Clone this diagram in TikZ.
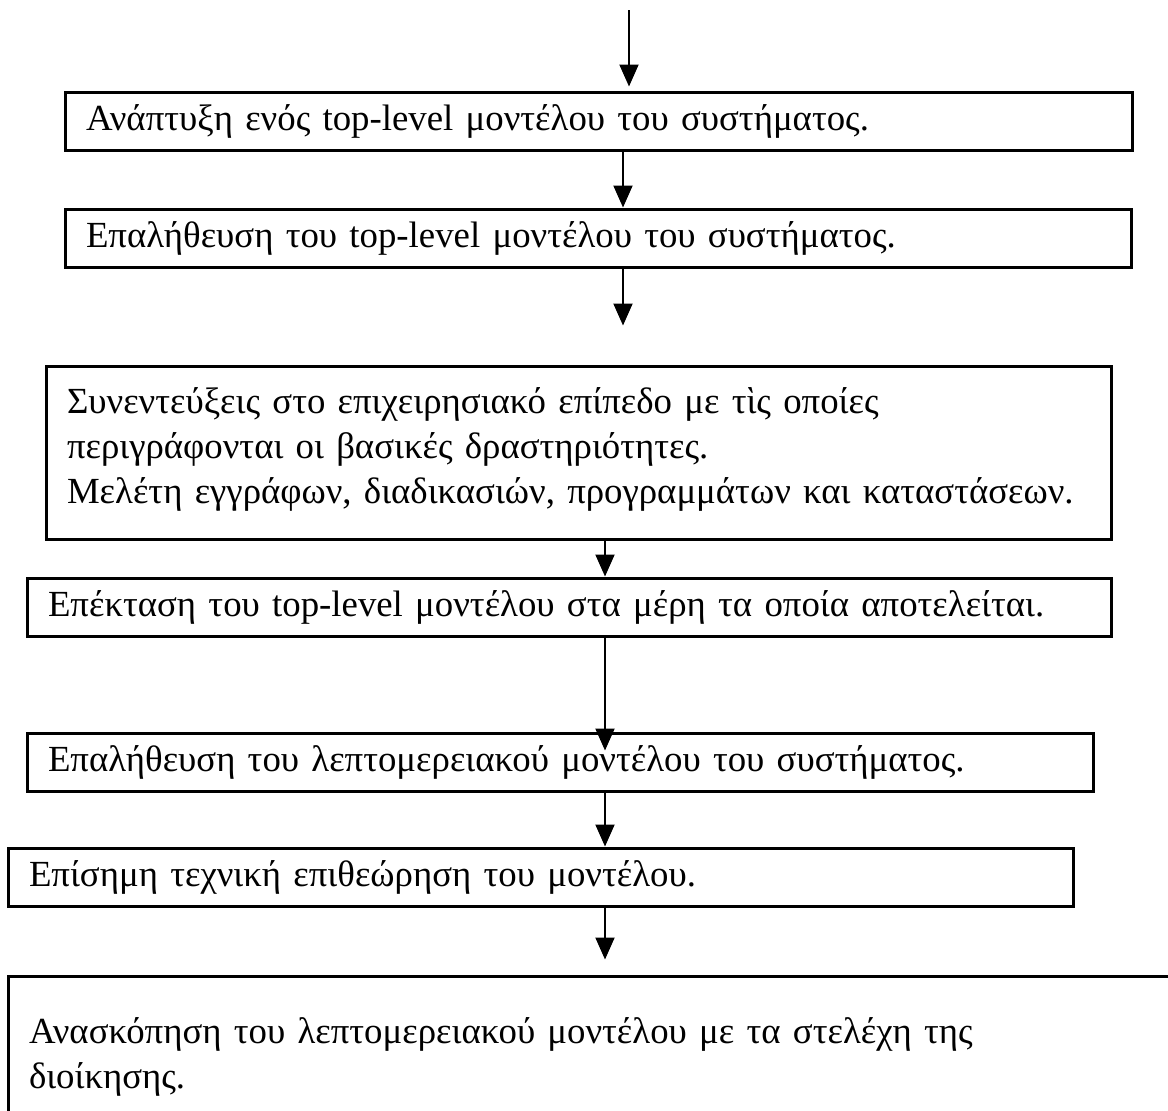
\documentclass[tikz,border=0pt]{standalone}
\usepackage{fontspec}
\setmainfont{Liberation Serif}
\usetikzlibrary{arrows.meta}
\begin{document}
\begin{tikzpicture}[x=1pt,y=-1pt,
  box/.style={draw, line width=3pt, rectangle, inner xsep=21pt, inner ysep=0pt,
    align=left, font=\fontsize{36.8}{45}\selectfont},
  flow/.style={line width=2pt, -{Triangle[length=22pt,width=19pt]}}]
\useasboundingbox (0,0) rectangle (1168,1111);
\clip (0,0) rectangle (1168,1111);

% process steps
\node[box, minimum width=1067pt, minimum height=58pt, text width=1025pt] (b1) at (598.5,121)
  {Ανάπτυξη ενός top-level μοντέλου του συστήματος.};
\node[box, minimum width=1066pt, minimum height=58pt, text width=1024pt] (b2) at (598,238)
  {Επαλήθευση του top-level μοντέλου του συστήματος.};
\node[box, minimum width=1065pt, minimum height=173pt, text width=1023pt] (b3) at (578.5,452.5)
  {Συνεντεύξεις στο επιχειρησιακό επίπεδο με τὶς οποίες\\
   περιγράφονται οι βασικές δραστηριότητες.\\
   \mbox{Μελέτη εγγράφων, διαδικασιών, προγραμμάτων και καταστάσεων.}\\[-32pt]\mbox{}};
\node[box, minimum width=1084pt, minimum height=58pt, text width=1042pt] (b4) at (569,607)
  {Επέκταση του top-level μοντέλου στα μέρη τα οποία αποτελείται.};
\node[box, minimum width=1066pt, minimum height=58pt, text width=1024pt] (b5) at (560,762)
  {Επαλήθευση του λεπτομερειακού μοντέλου του συστήματος.};
\node[box, minimum width=1065pt, minimum height=58pt, text width=1023pt] (b6) at (540.5,877)
  {Επίσημη τεχνική επιθεώρηση του μοντέλου.};
\node[box, minimum width=1192pt, minimum height=162pt, text width=1150pt] (b7) at (604,1057)
  {Ανασκόπηση του λεπτομερειακού μοντέλου με τα στελέχη της\\
   διοίκησης.};

% vertical positions of the connectors
\coordinate (start) at (629,10);
\coordinate (xa) at (623,0);
\coordinate (xb) at (605,0);

% connectors
\draw[flow, shorten >=4pt] (start) -- (start |- b1.north);
\draw[flow] (b1.south -| xa) -- (b2.north -| xa);
\draw[flow, shorten >=39pt] (b2.south -| xa) -- (b3.north -| xa);
\draw[flow] (b3.south -| xb) -- (b4.north -| xb);
\draw[flow, shorten >=-19pt] (b4.south -| xb) -- (b5.north -| xb);
\draw[flow] (b5.south -| xb) -- (b6.north -| xb);
\draw[flow, shorten >=15pt] (b6.south -| xb) -- (b7.north -| xb);
\end{tikzpicture}
\end{document}
